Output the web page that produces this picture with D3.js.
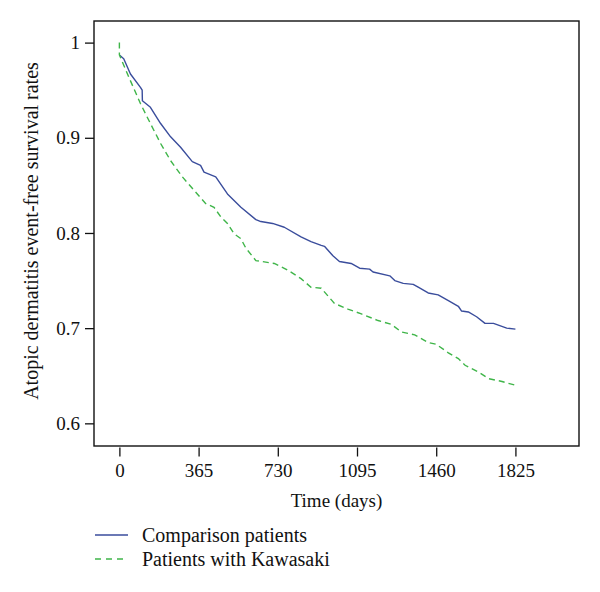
<!DOCTYPE html>
<html>
<head>
<meta charset="utf-8">
<script src="https://cdn.jsdelivr.net/npm/d3@7"></script>
<style>
  html, body { margin: 0; padding: 0; background: #fff; }
  svg text { font-family: "Liberation Serif", "Times New Roman", serif; fill: #111; }
</style>
</head>
<body>
<svg id="chart" width="600" height="592"></svg>
<script>
// ---- data ----
const xTicks = [0, 365, 730, 1095, 1460, 1825];
const yTicks = [0.6, 0.7, 0.8, 0.9, 1];
const yTickLabels = ["0.6", "0.7", "0.8", "0.9", "1"];
const seriesNames = ["Comparison patients", "Patients with Kawasaki"];

const comparisonDays = [0, 20, 51, 97, 105, 106, 143, 190, 236, 282, 336, 374, 390, 444, 498, 560, 629, 652, 706, 760, 837, 883, 930, 945, 984, 1014, 1068, 1107, 1153, 1169, 1246, 1269, 1308, 1354, 1377, 1423, 1469, 1516, 1562, 1577, 1608, 1646, 1685, 1724, 1785, 1825];
const comparisonRates = [0.987, 0.983, 0.967, 0.953, 0.950, 0.939, 0.932, 0.915, 0.901, 0.890, 0.875, 0.871, 0.864, 0.859, 0.841, 0.827, 0.814, 0.812, 0.810, 0.806, 0.796, 0.791, 0.787, 0.786, 0.776, 0.770, 0.768, 0.763, 0.762, 0.759, 0.755, 0.750, 0.747, 0.746, 0.743, 0.737, 0.735, 0.729, 0.723, 0.718, 0.717, 0.712, 0.705, 0.705, 0.700, 0.699];

const kawasakiDays = [0, 0, 43, 97, 143, 190, 236, 290, 359, 397, 436, 467, 498, 529, 560, 583, 629, 714, 776, 837, 883, 930, 991, 1053, 1115, 1192, 1253, 1300, 1361, 1423, 1461, 1516, 1562, 1593, 1654, 1701, 1763, 1825];
const kawasakiRates = [1.0, 0.987, 0.964, 0.936, 0.915, 0.894, 0.876, 0.859, 0.841, 0.831, 0.827, 0.817, 0.810, 0.799, 0.794, 0.784, 0.771, 0.768, 0.761, 0.752, 0.743, 0.742, 0.726, 0.720, 0.715, 0.708, 0.704, 0.696, 0.693, 0.685, 0.683, 0.674, 0.668, 0.661, 0.654, 0.647, 0.644, 0.640];

// ---- layout ----
const box = { left: 94, right: 579, top: 21, bottom: 446 };
const colors = ["#3a4d9c", "#3fb549"];
const tickFont = 19;
const titleFont = 20;

const svg = d3.select("#chart");
const x = d3.scaleLinear().domain([-117, 2118]).range([box.left, box.right]);
const y = d3.scaleLinear().domain([0.5762, 1.0227]).range([box.bottom, box.top]);

// frame
svg.append("rect")
  .attr("x", box.left).attr("y", box.top)
  .attr("width", box.right - box.left).attr("height", box.bottom - box.top)
  .attr("fill", "none").attr("stroke", "#111").attr("stroke-width", 1.4);

// y axis
const yAxis = d3.axisLeft(y).tickValues(yTicks)
  .tickFormat((d, i) => yTickLabels[i]).tickSize(9).tickPadding(5);
const gy = svg.append("g").attr("transform", `translate(${box.left},0)`).call(yAxis);
gy.select(".domain").remove();
gy.selectAll("line").attr("stroke", "#111").attr("stroke-width", 1.3);
gy.selectAll("text").attr("font-size", tickFont).style("font-family", "Liberation Serif, serif").attr("fill", "#111");

// x axis (ticks detached below the frame)
const xAxis = d3.axisBottom(x).tickValues(xTicks).tickFormat(d3.format("d")).tickSize(9).tickPadding(7);
const gx = svg.append("g").attr("transform", `translate(0,${box.bottom + 1.5})`).call(xAxis);
gx.select(".domain").remove();
gx.selectAll("line").attr("stroke", "#111").attr("stroke-width", 1.3);
gx.selectAll("text").attr("font-size", tickFont).style("font-family", "Liberation Serif, serif").attr("fill", "#111");

// axis titles
svg.append("text")
  .attr("x", (box.left + box.right) / 2).attr("y", 507)
  .attr("text-anchor", "middle").attr("font-size", tickFont)
  .text("Time (days)");
svg.append("text")
  .attr("transform", `translate(38,231) rotate(-90)`)
  .attr("text-anchor", "middle").attr("font-size", titleFont)
  .text("Atopic dermatitis event-free survival rates");

// lines
const line = d3.line().x(d => x(d[0])).y(d => y(d[1]));
const compData = comparisonDays.map((d, i) => [d, comparisonRates[i]]);
const kawaData = kawasakiDays.map((d, i) => [d, kawasakiRates[i]]);

svg.append("path").datum(compData)
  .attr("d", line).attr("fill", "none")
  .attr("stroke", colors[0]).attr("stroke-width", 1.4).attr("stroke-linejoin", "round");
svg.append("path").datum(kawaData)
  .attr("d", line).attr("fill", "none")
  .attr("stroke", colors[1]).attr("stroke-width", 1.4).attr("stroke-dasharray", "6,4");

// legend
const legend = svg.append("g");
seriesNames.forEach((name, i) => {
  const yy = 535 + i * 24;
  legend.append("line")
    .attr("x1", 95).attr("x2", 128).attr("y1", yy).attr("y2", yy)
    .attr("stroke", colors[i]).attr("stroke-width", 1.4)
    .attr("stroke-dasharray", i === 1 ? "6,5" : null);
  legend.append("text")
    .attr("x", 142).attr("y", yy + 6.5)
    .attr("font-size", titleFont)
    .text(name);
});
</script>
</body>
</html>
